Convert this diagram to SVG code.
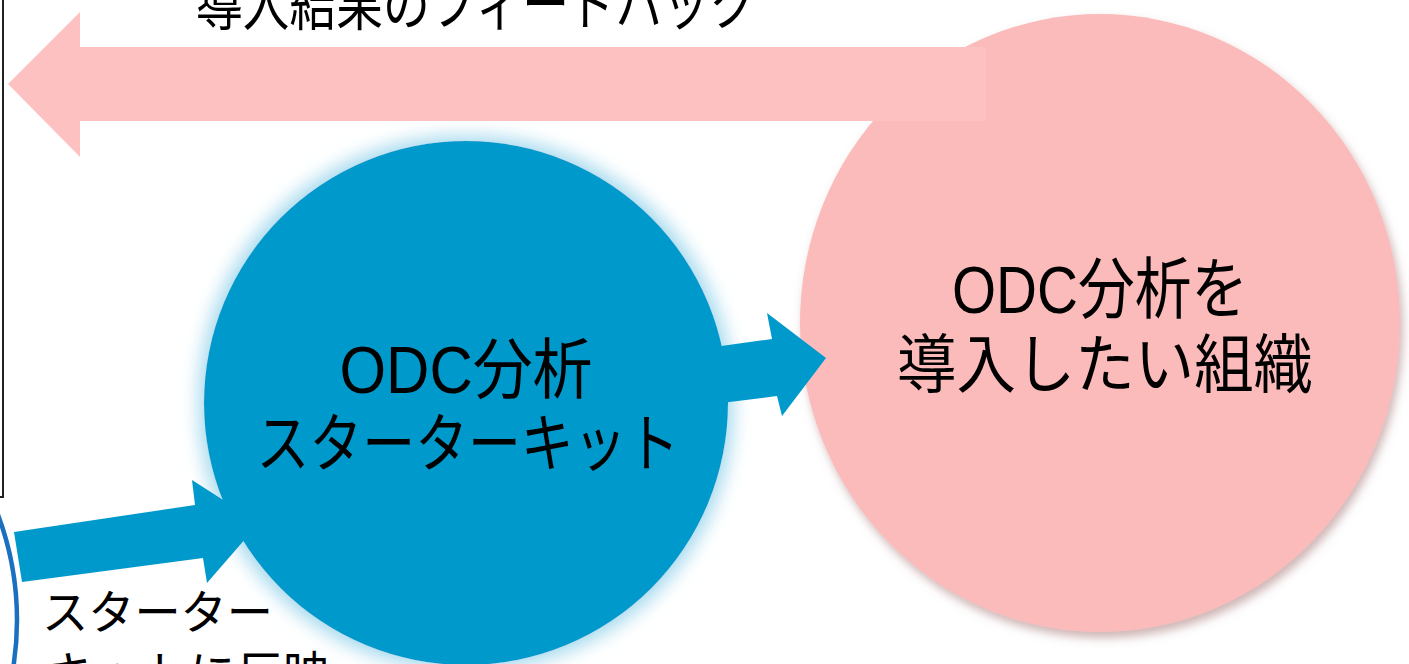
<svg xmlns="http://www.w3.org/2000/svg" width="1409" height="664" viewBox="0 0 1409 664">
<style>
text{font-family:"Liberation Sans","Noto Sans CJK JP",sans-serif;fill:#000}
.blue{fill:#0099CC}
.pinkc{fill:#FCBBBB}
.pinka{fill:#FEC1C1}
</style>
<defs>
<filter id="glow" x="-20%" y="-20%" width="140%" height="140%">
<feMorphology in="SourceAlpha" operator="dilate" radius="5" result="d"/>
<feGaussianBlur in="d" stdDeviation="9" result="b"/>
<feFlood flood-color="#8fd0ea" flood-opacity="0.8"/>
<feComposite in2="b" operator="in" result="g"/>
<feMerge><feMergeNode in="g"/><feMergeNode in="SourceGraphic"/></feMerge>
</filter>
<filter id="shadow" x="-10%" y="-10%" width="125%" height="125%">
<feDropShadow dx="3" dy="6" stdDeviation="5" flood-color="#a06a6a" flood-opacity="0.5"/>
</filter>
</defs>
<g id="frame">
<path d="M3,0 V497 H0" fill="none" stroke="#222" stroke-width="2"/>
</g>
<g id="org">
<ellipse class="pinkc" cx="1100" cy="323" rx="300" ry="309" filter="url(#shadow)"/>
<text transform="translate(1100,313) scale(1,1.15)" font-size="58" text-anchor="middle" textLength="296" lengthAdjust="spacingAndGlyphs">ODC分析を</text>
<text transform="translate(1105,387) scale(1,1.08)" font-size="59" text-anchor="middle" textLength="416" lengthAdjust="spacingAndGlyphs">導入したい組織</text>
</g>
<g id="prev">
<circle cx="-283" cy="620" r="300" fill="#fff" stroke="#1a6fbf" stroke-width="4.5"/>
</g>
<g id="kit">
<circle class="blue" cx="466" cy="403" r="262" filter="url(#glow)"/>
<text transform="translate(466,393) scale(1,1.22)" font-size="54" text-anchor="middle" textLength="253" lengthAdjust="spacingAndGlyphs">ODC分析</text>
<text transform="translate(468,466) scale(1,1.18)" font-size="54" text-anchor="middle" textLength="423" lengthAdjust="spacingAndGlyphs">スターターキット</text>
</g>
<g id="connectors">
<polygon class="pinka" points="8,84 80,12 80,47 986,47 986,121 80,121 80,157"/>
<polygon class="blue" points="700,349 772,339 767,313 826,358 782,416 777,396 705,405"/>
<polygon class="blue" points="14,532 195,505 192,480 259,523 207,583 203,558 22,582"/>
</g>
<g id="labels">
<text transform="translate(196,25) scale(1,1.2)" font-size="48" textLength="560" lengthAdjust="spacingAndGlyphs">導入結果のフィードバック</text>
<text x="42" y="629" font-size="47" textLength="231" lengthAdjust="spacingAndGlyphs">スターター</text>
<text x="48" y="690" font-size="47">キットに反映</text>
</g>
</svg>
